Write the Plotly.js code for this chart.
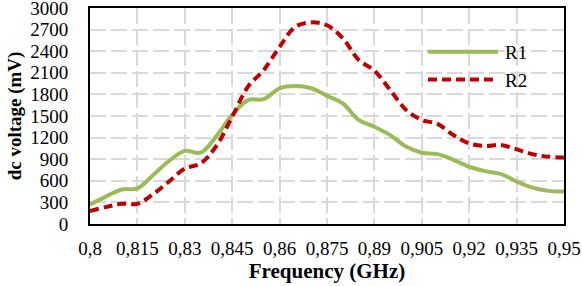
<!DOCTYPE html>
<html>
<head>
<meta charset="utf-8">
<script src="https://cdn.plot.ly/plotly-3.0.1.min.js"></script>
<style>html,body{margin:0;padding:0;background:#fff;}</style>
</head>
<body>
<div id="chart" style="width:582px;height:286px;"></div>
<script>
var freq = [0.800,0.805,0.810,0.815,0.820,0.825,0.830,0.835,0.840,0.845,0.850,0.855,0.860,0.865,0.870,0.875,0.880,0.885,0.890,0.895,0.900,0.905,0.910,0.915,0.920,0.925,0.930,0.935,0.940,0.945,0.950];
var r1 = [270,380,480,495,680,875,1015,990,1220,1515,1720,1735,1885,1915,1885,1780,1675,1445,1350,1235,1075,990,970,890,795,735,695,590,505,460,450];
var r2 = [180,235,280,280,415,590,770,840,1085,1490,1907,2140,2460,2740,2800,2760,2580,2280,2130,1860,1585,1445,1390,1235,1120,1083,1097,1037,970,935,925];
var xTicks = [0.8,0.815,0.83,0.845,0.86,0.875,0.89,0.905,0.92,0.935,0.95];
var yTicks = [0,300,600,900,1200,1500,1800,2100,2400,2700,3000];
var seriesNames = ['R1','R2'];

var font = 'Liberation Serif, Times New Roman, serif';
var traces = [
  {x: freq, y: r1, name: seriesNames[0], mode: 'lines',
   line: {color: '#9BBB59', width: 4, shape: 'spline', smoothing: 1}},
  {x: freq, y: r2, name: seriesNames[1], mode: 'lines',
   line: {color: '#C00000', width: 4, dash: '9px,5px', shape: 'spline', smoothing: 1}}
];
var layout = {
  width: 582, height: 286,
  margin: {l: 90, r: 18, t: 8, b: 62},
  paper_bgcolor: '#fff', plot_bgcolor: '#fff',
  separators: ', ',
  font: {family: font, size: 19, color: '#000'},
  showlegend: true,
  legend: {x: 0.7025, y: 0.885, xanchor: 'left', yanchor: 'top', bgcolor: 'rgba(0,0,0,0)',
           itemwidth: 72,
           font: {family: font, size: 19, color: '#000'}, tracegroupgap: 0},
  xaxis: {
    range: [0.8, 0.95], tickvals: xTicks, showline: true, linecolor: '#000', linewidth: 2, mirror: true,
    showgrid: true, gridcolor: '#D9D9D9', gridwidth: 2, griddash: '16px,5px',
    ticks: '', ticklabelstandoff: 6, ticklabeloverflow: 'allow', zeroline: false,
    tickfont: {family: font, size: 19, color: '#000'},
    title: {text: '<b>Frequency (GHz)</b>', font: {family: font, size: 21, color: '#000'}, standoff: 0}
  },
  yaxis: {
    range: [0, 3000], tickvals: yTicks, showline: true, linecolor: '#000', linewidth: 2, mirror: true,
    showgrid: true, gridcolor: '#D9D9D9', gridwidth: 2, griddash: '16px,5px',
    ticks: '', ticklabelstandoff: 16, ticklabeloverflow: 'allow', zeroline: false,
    tickfont: {family: font, size: 19, color: '#000'},
    title: {text: '<b>dc voltage (mV)</b>', font: {family: font, size: 19, color: '#000'}, standoff: 4}
  }
};
Plotly.newPlot('chart', traces, layout, {staticPlot: true, displayModeBar: false}).then(function () {
  // lengthen the legend line samples to fill the item width (Excel-style long samples)
  document.querySelectorAll('#chart .legend .legendlines path').forEach(function (p) {
    p.setAttribute('d', 'M5,0h70');
  });
});
</script>
</body>
</html>
